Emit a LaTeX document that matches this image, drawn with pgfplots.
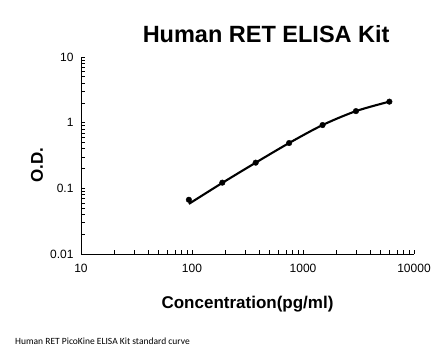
\documentclass[border=0pt]{standalone}
\usepackage{pgfplots}
\pgfplotsset{compat=1.18}
\usepackage{fontspec}
\setmainfont{Liberation Sans}
\newfontfamily\notefont{Carlito}
\begin{document}
\begin{tikzpicture}
\useasboundingbox (-81pt,-102pt) rectangle (365pt,254pt);
\begin{axis}[
  at={(0pt,0pt)}, anchor=south west,
  scale only axis, width=333pt, height=197pt,
  xmode=log, ymode=log,
  xmin=10, xmax=10000, ymin=0.01, ymax=10,
  axis x line*=bottom, axis y line*=left,
  axis line style={line width=0.8pt},
  tick align=inside,
  major tick length=4pt, minor tick length=4pt,
  tick style={black, line width=0.6pt},
  xtick={10,100,1000,10000}, xticklabels={10,100,1000,10000},
  ytick={0.01,0.1,1,10}, yticklabels={0.01,0.1,1,10},
  ticklabel style={font=\fontsize{12}{14}\selectfont},
  /pgf/number format/assume math mode=true,
  xticklabel style={yshift=-7pt},
  yticklabel style={xshift=-4pt},
  title={\textbf{Human RET ELISA Kit}},
  title style={at={(axis description cs:0.556,1.087)}, anchor=center, font=\fontsize{23.5}{26}\selectfont},
  xlabel={\textbf{Concentration(pg/ml)}},
  xlabel style={at={(axis description cs:0.5,-0.255)}, anchor=center, font=\fontsize{17}{20}\selectfont},
  ylabel={\textbf{O.D.}},
  ylabel style={at={(axis description cs:-0.132,0.45)}, anchor=center, font=\fontsize{17}{20}\selectfont},
]
\addplot[black, line width=2.1pt, smooth, no marks] coordinates {
  (93.75,0.058) (187.5,0.121) (375,0.246) (750,0.49) (1500,0.92) (3000,1.50) (6000,2.09)
};
\addplot[only marks, mark=*, mark size=2.8pt, black] coordinates {
  (93.75,0.067) (187.5,0.122) (375,0.246) (750,0.49) (1500,0.92) (3000,1.50) (6000,2.09)
};
\end{axis}
\node[anchor=west, inner sep=0pt, font=\notefont\fontsize{9.5}{11}\selectfont] at (-66pt,-87pt) {Human RET PicoKine ELISA Kit standard curve};
\end{tikzpicture}
\end{document}
